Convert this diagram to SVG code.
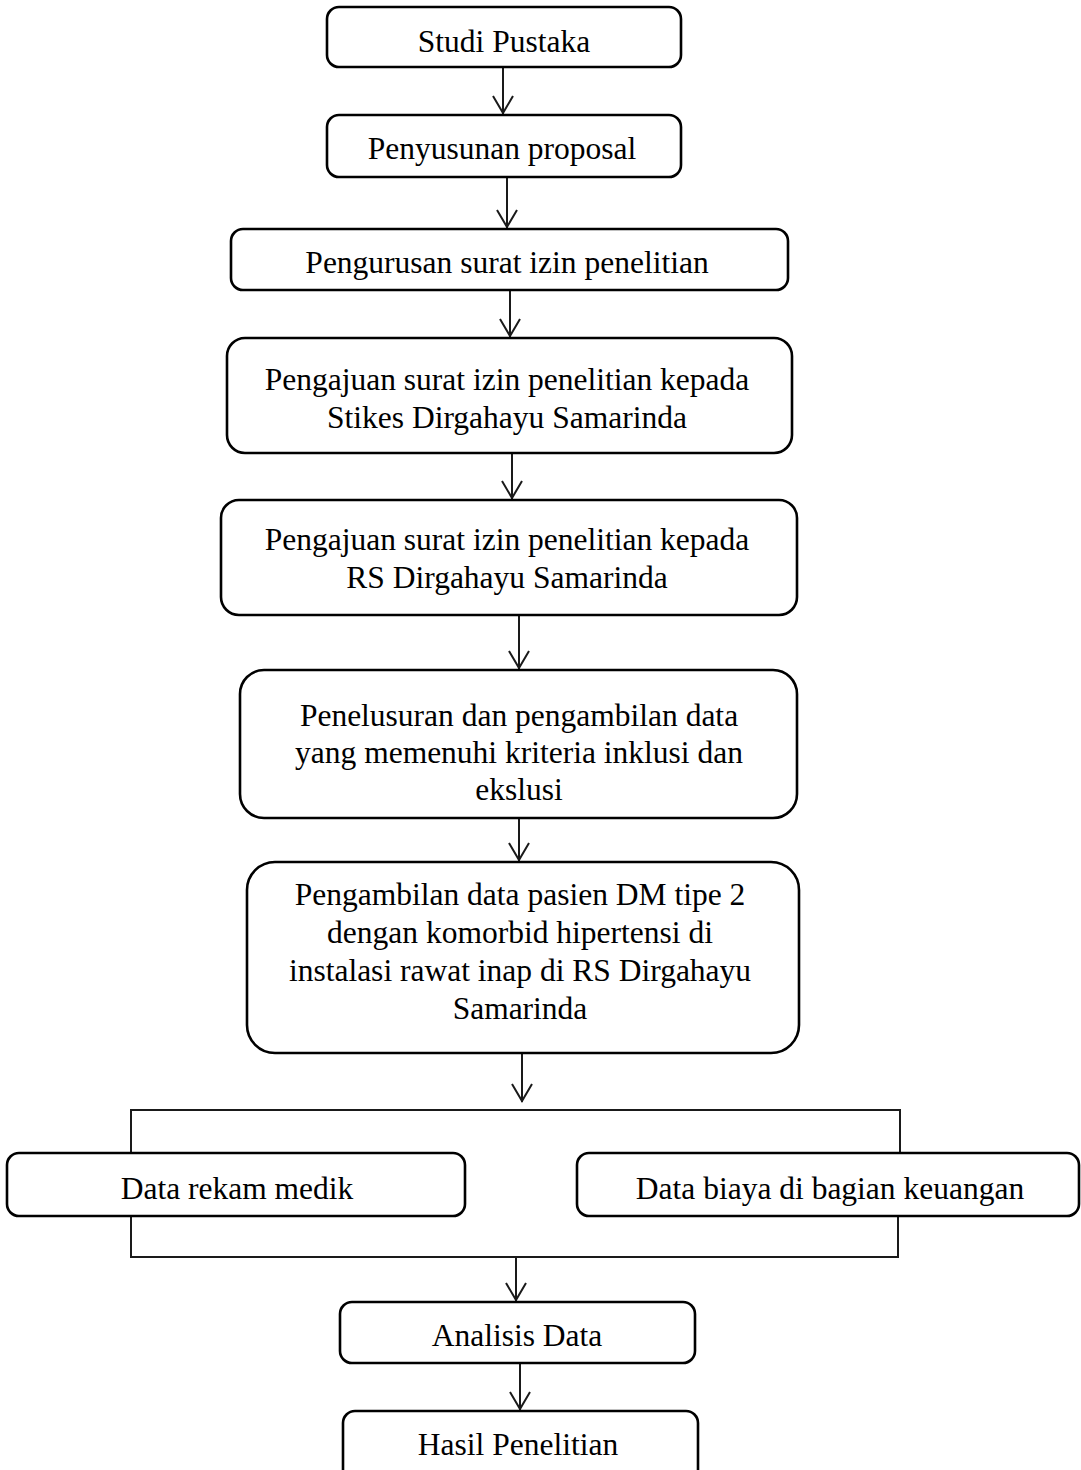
<svg xmlns="http://www.w3.org/2000/svg" width="1081" height="1470" viewBox="0 0 1081 1470">
<style>
.box{fill:#fff;stroke:#000;stroke-width:2.6}
.t{font-family:"Liberation Serif","Times New Roman",serif;font-size:31.5px;fill:#000;text-anchor:middle}
.c{fill:none;stroke:#1a1a1a;stroke-width:2}
</style>
<rect width="1081" height="1470" fill="#fff"/>
<g id="connectors">
<line class="c" x1="503" y1="67" x2="503" y2="114"/>
<path class="c" d="M493,96 L503,113 L513,96"/>
<line class="c" x1="507" y1="177" x2="507" y2="228"/>
<path class="c" d="M497,210 L507,227 L517,210"/>
<line class="c" x1="510" y1="290" x2="510" y2="337"/>
<path class="c" d="M500,319 L510,336 L520,319"/>
<line class="c" x1="512" y1="453" x2="512" y2="499"/>
<path class="c" d="M502,481 L512,498 L522,481"/>
<line class="c" x1="519" y1="615" x2="519" y2="669"/>
<path class="c" d="M509,651 L519,668 L529,651"/>
<line class="c" x1="519" y1="818" x2="519" y2="861"/>
<path class="c" d="M509,843 L519,860 L529,843"/>
<line class="c" x1="522" y1="1053" x2="522" y2="1102"/>
<path class="c" d="M512,1084 L522,1101 L532,1084"/>
<path class="c" d="M131,1153 L131,1110 L900,1110 L900,1153"/>
<path class="c" d="M131,1216 L131,1257 L898,1257 L898,1216"/>
<line class="c" x1="516" y1="1257" x2="516" y2="1301"/>
<path class="c" d="M506,1283 L516,1300 L526,1283"/>
<line class="c" x1="520" y1="1363" x2="520" y2="1410"/>
<path class="c" d="M510,1392 L520,1409 L530,1392"/>
</g>
<g id="n1"><rect class="box" x="327" y="7" width="354" height="60" rx="12"/><text class="t" x="504" y="52">Studi Pustaka</text></g>
<g id="n2"><rect class="box" x="327" y="115" width="354" height="62" rx="12"/><text class="t" x="502" y="159">Penyusunan proposal</text></g>
<g id="n3"><rect class="box" x="231" y="229" width="557" height="61" rx="12"/><text class="t" x="507" y="273">Pengurusan surat izin penelitian</text></g>
<g id="n4"><rect class="box" x="227" y="338" width="565" height="115" rx="18"/><text class="t" x="507" y="390">Pengajuan surat izin penelitian kepada</text><text class="t" x="507" y="428">Stikes Dirgahayu Samarinda</text></g>
<g id="n5"><rect class="box" x="221" y="500" width="576" height="115" rx="18"/><text class="t" x="507" y="550">Pengajuan surat izin penelitian kepada</text><text class="t" x="507" y="588">RS Dirgahayu Samarinda</text></g>
<g id="n6"><rect class="box" x="240" y="670" width="557" height="148" rx="24"/><text class="t" x="519" y="726">Penelusuran dan pengambilan data</text><text class="t" x="519" y="763">yang memenuhi kriteria inklusi dan</text><text class="t" x="519" y="800">ekslusi</text></g>
<g id="n7"><rect class="box" x="247" y="862" width="552" height="191" rx="28"/><text class="t" x="520" y="905">Pengambilan data pasien DM tipe 2</text><text class="t" x="520" y="943">dengan komorbid hipertensi di</text><text class="t" x="520" y="981">instalasi rawat inap di RS Dirgahayu</text><text class="t" x="520" y="1019">Samarinda</text></g>
<g id="n8"><rect class="box" x="7" y="1153" width="458" height="63" rx="12"/><text class="t" x="237" y="1199">Data rekam medik</text></g>
<g id="n9"><rect class="box" x="577" y="1153" width="502" height="63" rx="12"/><text class="t" x="830" y="1199">Data biaya di bagian keuangan</text></g>
<g id="n10"><rect class="box" x="340" y="1302" width="355" height="61" rx="12"/><text class="t" x="517" y="1346">Analisis Data</text></g>
<g id="n11"><rect class="box" x="343" y="1411" width="355" height="75" rx="12"/><text class="t" x="518" y="1455">Hasil Penelitian</text></g>
</svg>
